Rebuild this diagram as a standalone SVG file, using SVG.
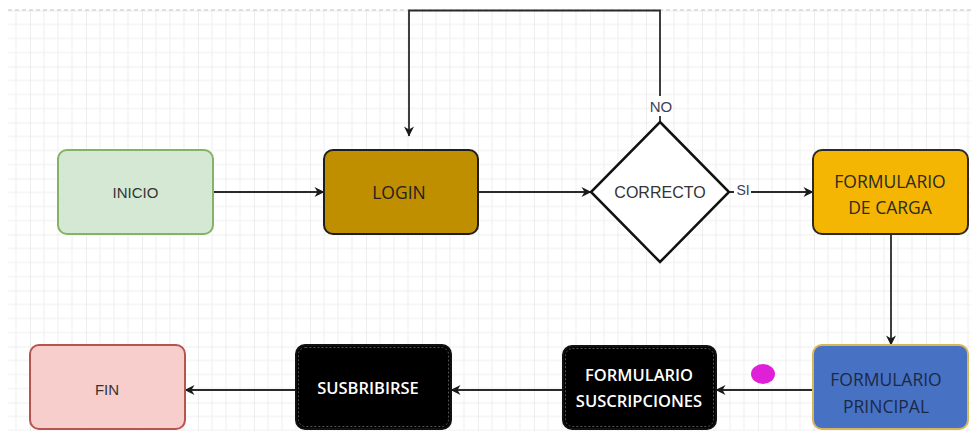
<svg xmlns="http://www.w3.org/2000/svg" width="971" height="431" viewBox="0 0 971 431">
  <defs>
    <pattern id="grid" patternUnits="userSpaceOnUse" x="30" y="10.5" width="56" height="56">
      <path d="M14,0 V56 M28,0 V56 M42,0 V56 M0,14 H56 M0,28 H56 M0,42 H56" stroke="#efefef" stroke-width="1" fill="none"/>
      <path d="M0,0 V56 M0,0 H56" stroke="#dedede" stroke-width="1" fill="none"/>
    </pattern>
    <marker id="arrow" viewBox="0 0 10 10" refX="9.5" refY="5" markerUnits="userSpaceOnUse" markerWidth="11" markerHeight="10" orient="auto">
      <path d="M0,0 L10,5 L0,10 L3,5 z" fill="#1a1a1a"/>
    </marker>
    <style>
      .box { stroke-width: 2; }
      .edge { fill: none; stroke: #2a2a2a; stroke-width: 1.8; marker-end: url(#arrow); }
      .sans { font-family: "Liberation Sans", Arial, sans-serif; text-anchor: middle; dominant-baseline: central; }
      .open { font-family: "Open Sans", "Noto Sans", sans-serif; text-anchor: middle; dominant-baseline: central; font-size: 17.5px; }
      .white { fill: #ffffff; font-weight: 600; font-size: 16.5px; }
      .inner { fill: none; stroke: #6a6a6a; stroke-width: 0.8; stroke-dasharray: 2 2; }
      .lbl { fill: #ffffff; }
    </style>
  </defs>

  <!-- canvas background and grid -->
  <rect width="971" height="431" fill="#ffffff"/>
  <rect x="8" y="10" width="963" height="421" fill="url(#grid)"/>
  <line x1="8" y1="10" x2="971" y2="10" stroke="#c4c4c4" stroke-width="1" stroke-dasharray="4 3"/>

  <!-- connectors -->
  <g id="connectors">
    <path class="edge" d="M213,192 H324"/>
    <path class="edge" d="M478,192 H591"/>
    <path class="edge" d="M729,192 H813"/>
    <path class="edge" d="M660,122 V10.5 H409 V136"/>
    <path class="edge" d="M891,234 V345"/>
    <path class="edge" d="M813,390 H716"/>
    <path class="edge" d="M563,390 H451"/>
    <path class="edge" d="M296,390 H185"/>
    <!-- edge labels -->
    <rect class="lbl" x="650" y="96" width="22" height="20"/>
    <text class="sans" x="661" y="106" font-size="15" fill="#404058">NO</text>
    <rect class="lbl" x="734" y="183" width="17" height="17"/>
    <text class="sans" x="743" y="190" font-size="14" fill="#404058">SI</text>
  </g>

  <g id="inicio">
    <rect class="box" x="58" y="150" width="155" height="84" rx="9" fill="#d5e8d4" stroke="#82b366"/>
    <text class="sans" x="135.5" y="192" font-size="15" fill="#333333">INICIO</text>
  </g>

  <g id="login">
    <rect class="box" x="324" y="150" width="154" height="84" rx="9" fill="#bf8f00" stroke="#1e1e1e" stroke-width="2.5"/>
    <text class="open" x="399" y="192" fill="#222222">LOGIN</text>
  </g>

  <g id="correcto">
    <polygon points="660,122 729,192 660,262 591,192" fill="#ffffff" stroke="#111111" stroke-width="2.5"/>
    <text class="sans" x="660" y="192" font-size="16" fill="#333333">CORRECTO</text>
  </g>

  <g id="formulario-carga">
    <rect class="box" x="813" y="150" width="155" height="84" rx="9" fill="#f4b602" stroke="#2a2a2a"/>
    <text class="open" x="890" y="181" fill="#2a2a2a">FORMULARIO</text>
    <text class="open" x="890" y="207" fill="#2a2a2a">DE CARGA</text>
  </g>

  <g id="formulario-principal">
    <rect class="box" x="813" y="345" width="155" height="84" rx="9" fill="#4772c4" stroke="#d6b656"/>
    <text class="open" x="886" y="379" fill="#1c2946">FORMULARIO</text>
    <text class="open" x="886" y="406" fill="#1c2946">PRINCIPAL</text>
  </g>

  <g id="marcador">
    <ellipse cx="763" cy="374" rx="12" ry="10" fill="#e020d8"/>
  </g>

  <g id="formulario-suscripciones">
    <rect class="box" x="563" y="346" width="153" height="83" rx="9" fill="#000000" stroke="#111111"/>
    <rect class="inner" x="565.5" y="348.5" width="148" height="78" rx="7"/>
    <text class="open white" x="639" y="374">FORMULARIO</text>
    <text class="open white" x="639" y="400">SUSCRIPCIONES</text>
  </g>

  <g id="susbribirse">
    <rect class="box" x="296" y="345" width="155" height="84" rx="9" fill="#000000" stroke="#111111"/>
    <rect class="inner" x="298.5" y="347.5" width="150" height="79" rx="7"/>
    <text class="open white" x="368" y="387">SUSBRIBIRSE</text>
  </g>

  <g id="fin">
    <rect class="box" x="30" y="345" width="155" height="84" rx="9" fill="#f8cecc" stroke="#b85450"/>
    <text class="sans" x="107" y="389" font-size="15" fill="#333333">FIN</text>
  </g>
</svg>
